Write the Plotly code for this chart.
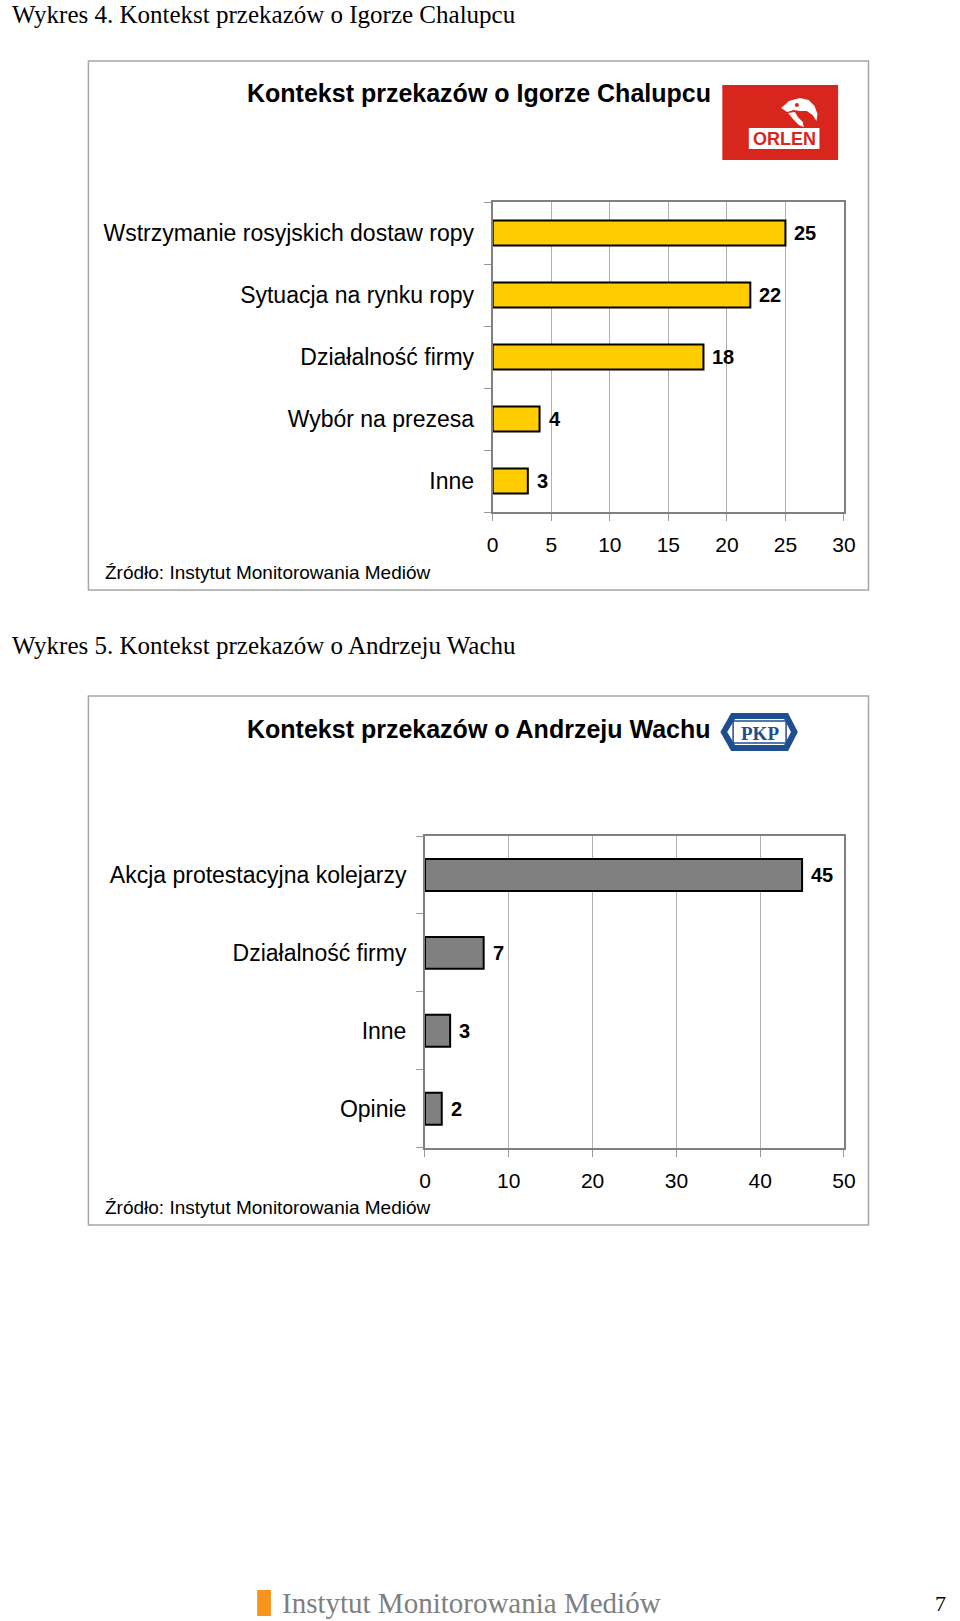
import plotly.graph_objects as go

W, H = 960, 1621

# ---- data ----
cats1 = ["Wstrzymanie rosyjskich dostaw ropy", "Sytuacja na rynku ropy",
         "Działalność firmy", "Wybór na prezesa", "Inne"]
vals1 = [25, 22, 18, 4, 3]
cats2 = ["Akcja protestacyjna kolejarzy", "Działalność firmy", "Inne", "Opinie"]
vals2 = [45, 7, 3, 2]
xticks1 = [0, 5, 10, 15, 20, 25, 30]
xticks2 = [0, 10, 20, 30, 40, 50]
page_title1 = "Wykres 4. Kontekst przekazów o Igorze Chalupcu"
page_title2 = "Wykres 5. Kontekst przekazów o Andrzeju Wachu"
chart_title1 = "Kontekst przekazów o Igorze Chalupcu"
chart_title2 = "Kontekst przekazów o Andrzeju Wachu"
source = "Źródło: Instytut Monitorowania Mediów"


def X(px):
    return px / W


def Y(py):
    return 1 - py / H


SANS = "Liberation Sans, Arial, sans-serif"
SERIF = "Liberation Serif, Times New Roman, serif"

fig = go.Figure()

fig.add_trace(go.Bar(
    x=vals1, y=cats1, orientation="h", xaxis="x", yaxis="y",
    marker=dict(color="#FFCC00", line=dict(color="black", width=2)),
    width=0.4, hoverinfo="skip",
))
fig.add_trace(go.Bar(
    x=vals2, y=cats2, orientation="h", xaxis="x2", yaxis="y2",
    marker=dict(color="#808080", line=dict(color="black", width=2)),
    width=0.41, hoverinfo="skip",
))

axis_common = dict(showline=True, mirror=True, linecolor="#808080", linewidth=2,
                   ticks="outside", ticklen=7, tickcolor="#999999", tickwidth=1,
                   tickfont=dict(family=SANS, size=21, color="black"),
                   zeroline=False, fixedrange=True)
ycommon = dict(axis_common)
ycommon["tickfont"] = dict(family=SANS, size=23, color="black")

fig.update_layout(
    width=W, height=H, margin=dict(l=0, r=0, t=0, b=0),
    paper_bgcolor="white", plot_bgcolor="white", showlegend=False,
    xaxis=dict(domain=[X(496), X(854)], anchor="y", range=[0, 30],
               tickvals=xticks1, showgrid=True, gridcolor="#b0b0b0", gridwidth=1,
               ticklabelstandoff=6, **axis_common),
    yaxis=dict(domain=[Y(512), Y(202)], anchor="x", type="category",
               categoryorder="array", categoryarray=cats1[::-1],
               tickson="boundaries", showgrid=False, ticklabelstandoff=12,
               **ycommon),
    xaxis2=dict(domain=[X(427), X(854)], anchor="y2", range=[0, 50],
                tickvals=xticks2, showgrid=True, gridcolor="#b0b0b0", gridwidth=1,
                ticklabelstandoff=6, **axis_common),
    yaxis2=dict(domain=[Y(1147.7), Y(836)], anchor="x2", type="category",
                categoryorder="array", categoryarray=cats2[::-1],
                tickson="boundaries", showgrid=False, ticklabelstandoff=12,
                **ycommon),
)

shapes = []
# outer chart boxes
for top, bot in [(61, 590), (696, 1225)]:
    shapes.append(dict(type="rect", xref="paper", yref="paper",
                       x0=X(84), x1=X(879), y0=Y(bot), y1=Y(top),
                       line=dict(color="#a6a6a6", width=1.5), fillcolor="rgba(0,0,0,0)"))

# ORLEN logo
shapes.append(dict(type="rect", xref="paper", yref="paper",
                   x0=X(730), x1=X(848), y0=Y(160), y1=Y(85),
                   line=dict(width=0), fillcolor="#D8261C"))
shapes.append(dict(type="rect", xref="paper", yref="paper",
                   x0=X(757), x1=X(829), y0=Y(149), y1=Y(128),
                   line=dict(width=0), fillcolor="white"))


def path(pts):
    return "M " + " L ".join(f"{X(a):.5f},{Y(b):.5f}" for a, b in pts) + " Z"


eagle_head = [(790, 108), (798, 101), (809, 98), (818, 100), (824, 106), (827, 114),
              (826, 121), (822, 115), (816, 111), (809, 111), (803, 110), (796, 112)]
eagle_neck = [(797, 113), (804, 112), (807, 117), (812, 122), (813, 127), (808, 125),
              (802, 119)]
shapes.append(dict(type="path", xref="paper", yref="paper", path=path(eagle_head),
                   line=dict(width=0), fillcolor="white"))
shapes.append(dict(type="path", xref="paper", yref="paper", path=path(eagle_neck),
                   line=dict(width=0), fillcolor="white"))
shapes.append(dict(type="circle", xref="paper", yref="paper",
                   x0=X(804), x1=X(808), y0=Y(107), y1=Y(103),
                   line=dict(width=0), fillcolor="#D8261C"))

# PKP logo
outer = [(728, 732), (739, 713), (797, 713), (807, 732), (797, 751), (739, 751)]
inner = [(735, 732), (743, 719), (793, 719), (800, 732), (793, 745), (743, 745)]
shapes.append(dict(type="path", xref="paper", yref="paper", path=path(outer),
                   line=dict(width=0), fillcolor="#1F4E8F"))
shapes.append(dict(type="path", xref="paper", yref="paper", path=path(inner),
                   line=dict(width=0), fillcolor="white"))
shapes.append(dict(type="rect", xref="paper", yref="paper",
                   x0=X(741), x1=X(795), y0=Y(743), y1=Y(721),
                   line=dict(color="#1F4E8F", width=1.5), fillcolor="white"))

# footer orange square
shapes.append(dict(type="rect", xref="paper", yref="paper",
                   x0=X(256), x1=X(270), y0=Y(1616), y1=Y(1590),
                   line=dict(width=0), fillcolor="#F7941D"))

fig.update_layout(shapes=shapes)

ann = []


def text(t, x, y, size, family=SANS, color="black", xanchor="left", bold=False):
    ann.append(dict(text=(f"<b>{t}</b>" if bold else t), x=X(x), y=Y(y),
                    xref="paper", yref="paper", xanchor=xanchor, yanchor="middle",
                    showarrow=False, font=dict(family=family, size=size, color=color)))


# value labels through the data axes
for cat, v in zip(cats1, vals1):
    ann.append(dict(text=f"<b>{v}</b>", x=v, y=cat, xref="x", yref="y",
                    xanchor="left", yanchor="middle", xshift=7, showarrow=False,
                    font=dict(family=SANS, size=20, color="black")))
for cat, v in zip(cats2, vals2):
    ann.append(dict(text=f"<b>{v}</b>", x=v, y=cat, xref="x2", yref="y2",
                    xanchor="left", yanchor="middle", xshift=7, showarrow=False,
                    font=dict(family=SANS, size=20, color="black")))

text(page_title1, 4, 14, 25, family=SERIF)
text(page_title2, 4, 645, 25, family=SERIF)
text(chart_title1, 482, 93, 25, xanchor="center", bold=True)
text(chart_title2, 482, 729, 25, xanchor="center", bold=True)
text(source, 99, 572, 19)
text(source, 99, 1207, 19)
text("ORLEN", 793, 139, 18, color="#D8261C", xanchor="center", bold=True)
text("PKP", 768, 733, 19, family=SERIF, color="#1F4E8F", xanchor="center", bold=True)
text("Instytut Monitorowania Mediów", 279, 1603, 29, family=SERIF, color="#7f7f7f")
text("7", 952, 1603, 22, family=SERIF, xanchor="center")

fig.update_layout(annotations=ann)

fig.write_html(
    "out.html",
    config={"displayModeBar": False, "responsive": False},
    post_script="document.body.style.margin='0';document.body.style.padding='0';"
                "document.body.style.overflow='hidden';",
)
